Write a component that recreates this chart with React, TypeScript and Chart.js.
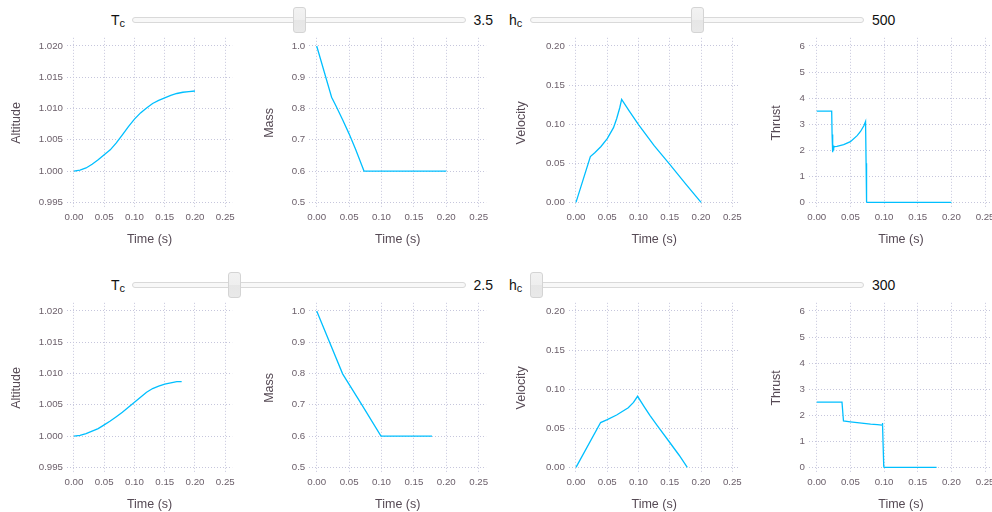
import React, { useEffect, useRef } from "react";
import { Chart, registerables } from "chart.js";

Chart.register(...registerables);

// ---------- data ----------
const xTicks = [0, 0.05, 0.1, 0.15, 0.2, 0.25];
const X_MIN = -0.0115;
const X_MAX = 0.2615;

const altTicks = [0.995, 1.0, 1.005, 1.01, 1.015, 1.02];
const massTicks = [0.5, 0.6, 0.7, 0.8, 0.9, 1.0];
const velTicks = [0, 0.05, 0.1, 0.15, 0.2];
const thrustTicks = [0, 1, 2, 3, 4, 5, 6];

const tcValues = [3.5, 2.5];
const tcRange = [1, 6];
const hcValues = [500, 300];
const hcRange = [300, 700];

// Row 1 : T_c = 3.5, h_c = 500
const alt1T = [0, 0.01, 0.02, 0.03, 0.04, 0.05, 0.06, 0.07, 0.08, 0.09, 0.1, 0.11, 0.12, 0.13, 0.14, 0.15, 0.16, 0.17, 0.18, 0.19, 0.2];
const alt1V = [1.0, 1.00015, 1.0005, 1.0011, 1.0018, 1.0026, 1.0034, 1.0045, 1.0058, 1.0071, 1.0083, 1.0093, 1.0101, 1.0108, 1.0113, 1.0117, 1.0121, 1.0124, 1.0126, 1.0127, 1.0128];
const mass1T = [0, 0.023, 0.03, 0.04, 0.05, 0.06, 0.07, 0.073, 0.2];
const mass1V = [1.0, 0.836, 0.807, 0.764, 0.719, 0.67, 0.616, 0.6, 0.6];
const vel1T = [0, 0.023, 0.03, 0.04, 0.05, 0.06, 0.065, 0.07, 0.073, 0.085, 0.1, 0.125, 0.15, 0.175, 0.2];
const vel1V = [0, 0.0586, 0.0635, 0.0715, 0.0815, 0.0955, 0.107, 0.121, 0.1316, 0.117, 0.0995, 0.0725, 0.0485, 0.024, 0];
const thr1T = [0, 0.0222, 0.0228, 0.0234, 0.0239, 0.0244, 0.0249, 0.0254, 0.026, 0.03, 0.04, 0.05, 0.06, 0.065, 0.07, 0.0725, 0.0733, 0.074, 0.075, 0.2];
const thr1V = [3.5, 3.5, 2.6, 1.92, 2.25, 2.02, 2.18, 2.08, 2.14, 2.15, 2.22, 2.33, 2.56, 2.72, 2.94, 3.1, 1.5, 0.02, 0, 0];

// Row 2 : T_c = 2.5, h_c = 300
const alt2T = [0, 0.01, 0.02, 0.03, 0.04, 0.05, 0.06, 0.07, 0.08, 0.09, 0.1, 0.11, 0.12, 0.13, 0.14, 0.15, 0.16, 0.17, 0.178];
const alt2V = [1.0, 1.0001, 1.0004, 1.0008, 1.0012, 1.0018, 1.0024, 1.0031, 1.0038, 1.0046, 1.0054, 1.0062, 1.007, 1.0076, 1.008, 1.0083, 1.0085, 1.0087, 1.0087];
const mass2T = [0, 0.04, 0.07, 0.0992, 0.178];
const mass2V = [1.0, 0.799, 0.699, 0.6, 0.6];
const vel2T = [0, 0.0394, 0.05, 0.065, 0.0836, 0.092, 0.0985, 0.11, 0.1182, 0.13, 0.15, 0.165, 0.178];
const vel2V = [0, 0.0573, 0.061, 0.067, 0.0762, 0.083, 0.0909, 0.0765, 0.0665, 0.0535, 0.0318, 0.0155, 0];
const thr2T = [0, 0.0375, 0.0397, 0.05, 0.06, 0.07, 0.08, 0.09, 0.097, 0.0975, 0.098, 0.0995, 0.1, 0.178];
const thr2V = [2.5, 2.5, 1.78, 1.75, 1.72, 1.69, 1.66, 1.64, 1.625, 1.7, 1.62, 0.05, 0, 0];

// ---------- style ----------
const FONT = '"Liberation Sans", Arial, Helvetica, sans-serif';
const TICK = "#6c606b";
const TITLE = "#564a55";
const GRID = "#c6c6dc";
const LINE = "#00bfff";

type MiniProps = {
  left: number;
  top: number;
  yW: number;
  plotW: number;
  title: string;
  yTicks: number[];
  yDec: number;
  yMin: number;
  yMax: number;
  xs: number[];
  ys: number[];
};

function MiniChart(p: MiniProps) {
  const ref = useRef<HTMLCanvasElement>(null);
  const rightPad = 12;
  const width = Math.round(p.yW + p.plotW + rightPad);
  const height = 222;
  useEffect(() => {
    const chart = new Chart(ref.current as HTMLCanvasElement, {
      type: "line",
      data: {
        datasets: [
          {
            data: p.xs.map((x, i) => ({ x, y: p.ys[i] })),
            borderColor: LINE,
            borderWidth: 1.3,
            pointRadius: 0,
            fill: false,
            tension: 0,
          },
        ],
      },
      options: {
        animation: false,
        responsive: false,
        devicePixelRatio: 1,
        events: [],
        layout: { padding: { left: 0, top: 7, right: width - p.yW - p.plotW, bottom: 0 } },
        plugins: { legend: { display: false }, tooltip: { enabled: false } },
        scales: {
          x: {
            type: "linear",
            min: X_MIN,
            max: X_MAX,
            afterBuildTicks: (s: any) => {
              s.ticks = xTicks.map((v) => ({ value: v }));
            },
            afterFit: (s: any) => {
              s.height = 42;
            },
            ticks: {
              autoSkip: false,
              maxRotation: 0,
              padding: 3.6,
              color: TICK,
              font: { family: FONT, size: 9.7 },
              callback: (v: any) => Number(v).toFixed(2),
            },
            grid: { color: GRID, lineWidth: 1, drawTicks: false, borderDash: [1, 2] } as any,
            border: { display: false, dash: [1, 2] },
            title: {
              display: true,
              text: "Time (s)",
              color: TITLE,
              font: { family: FONT, size: 12.5 },
              padding: { top: 0, bottom: 3.2 },
            },
          },
          y: {
            type: "linear",
            min: p.yMin,
            max: p.yMax,
            afterBuildTicks: (s: any) => {
              s.ticks = p.yTicks.map((v) => ({ value: v }));
            },
            afterFit: (s: any) => {
              s.width = p.yW;
            },
            ticks: {
              autoSkip: false,
              padding: 4,
              color: TICK,
              font: { family: FONT, size: 9.7 },
              callback: (v: any) => Number(v).toFixed(p.yDec),
            },
            grid: { color: GRID, lineWidth: 1, drawTicks: false, borderDash: [1, 2] } as any,
            border: { display: false, dash: [1, 2] },
            title: {
              display: true,
              text: p.title,
              color: TITLE,
              font: { family: FONT, size: 12.5 },
              padding: { top: 0, bottom: 0 },
            },
          },
        },
      },
    } as any);
    return () => chart.destroy();
  }, []);
  return (
    <canvas
      ref={ref}
      width={width}
      height={height}
      style={{ position: "absolute", left: p.left, top: p.top, width, height }}
    />
  );
}

type SliderProps = {
  top: number;
  labelLeft: number;
  main: string;
  sub: string;
  trackLeft: number;
  frac: number;
  valueLeft: number;
  valueText: string;
};

function Slider(s: SliderProps) {
  const trackW = 334;
  const thumbW = 13;
  const thumbLeft = s.trackLeft + s.frac * (trackW - thumbW);
  return (
    <>
      <div
        style={{
          position: "absolute",
          left: s.labelLeft,
          top: s.top + 13.3,
          font: `14px ${FONT}`,
          lineHeight: "14px",
          color: "#111",
          whiteSpace: "nowrap",
        }}
      >
        {s.main}
        <span style={{ fontSize: 11, position: "relative", top: 2 }}>{s.sub}</span>
      </div>
      <div
        style={{
          position: "absolute",
          left: s.trackLeft,
          top: s.top + 17,
          width: trackW,
          height: 6,
          boxSizing: "border-box",
          border: "1px solid #d9d9d9",
          borderRadius: 3,
          background: "#f8f8f8",
        }}
      />
      <div
        style={{
          position: "absolute",
          left: thumbLeft,
          top: s.top + 7,
          width: thumbW,
          height: 26,
          boxSizing: "border-box",
          border: "1px solid #d4d4d4",
          borderRadius: 3,
          background: "linear-gradient(to bottom, #f2f2f2 0%, #eeeeee 50%, #e6e6e6 51%, #e9e9e9 100%)",
        }}
      />
      <div
        style={{
          position: "absolute",
          left: s.valueLeft,
          top: s.top + 13.3,
          font: `14px ${FONT}`,
          lineHeight: "14px",
          color: "#111",
          whiteSpace: "nowrap",
        }}
      >
        {s.valueText}
      </div>
    </>
  );
}

const cols = [
  { left: 9, yW: 58, plotW: 165.2 },
  { left: 262, yW: 47.25, plotW: 176.9 },
  { left: 514, yW: 54.8, plotW: 170.7 },
  { left: 769, yW: 40, plotW: 183.8 },
];

export default function App() {
  const rows = [
    {
      off: 0,
      series: [
        [alt1T, alt1V],
        [mass1T, mass1V],
        [vel1T, vel1V],
        [thr1T, thr1V],
      ],
    },
    {
      off: 265,
      series: [
        [alt2T, alt2V],
        [mass2T, mass2V],
        [vel2T, vel2V],
        [thr2T, thr2V],
      ],
    },
  ];
  const axes = [
    { title: "Altitude", ticks: altTicks, dec: 3, min: 0.9941, max: 1.0213 },
    { title: "Mass", ticks: massTicks, dec: 1, min: 0.482, max: 1.026 },
    { title: "Velocity", ticks: velTicks, dec: 2, min: -0.0072, max: 0.2104 },
    { title: "Thrust", ticks: thrustTicks, dec: 0, min: -0.215, max: 6.313 },
  ];
  return (
    <div
      style={{
        position: "fixed",
        left: 0,
        top: 0,
        width: 992,
        height: 512,
        overflow: "hidden",
        background: "#fff",
      }}
    >
      {rows.map((r, ri) => (
        <React.Fragment key={ri}>
          <Slider
            top={r.off}
            labelLeft={111}
            main="T"
            sub="c"
            trackLeft={132}
            frac={(tcValues[ri] - tcRange[0]) / (tcRange[1] - tcRange[0])}
            valueLeft={473.5}
            valueText={String(tcValues[ri])}
          />
          <Slider
            top={r.off}
            labelLeft={509}
            main="h"
            sub="c"
            trackLeft={530}
            frac={(hcValues[ri] - hcRange[0]) / (hcRange[1] - hcRange[0])}
            valueLeft={872}
            valueText={String(hcValues[ri])}
          />
          {r.series.map((sr, ci) => (
            <MiniChart
              key={ci}
              left={cols[ci].left}
              top={28 + r.off}
              yW={cols[ci].yW}
              plotW={cols[ci].plotW}
              title={axes[ci].title}
              yTicks={axes[ci].ticks}
              yDec={axes[ci].dec}
              yMin={axes[ci].min}
              yMax={axes[ci].max}
              xs={sr[0]}
              ys={sr[1]}
            />
          ))}
        </React.Fragment>
      ))}
    </div>
  );
}
